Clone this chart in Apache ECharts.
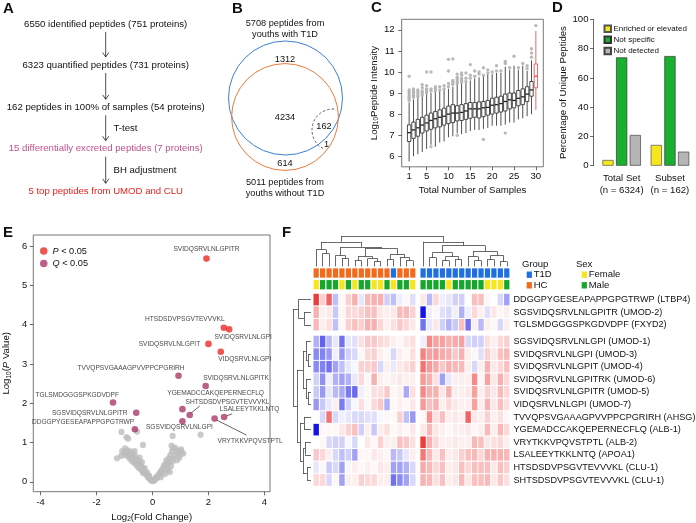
<!DOCTYPE html>
<html>
<head>
<meta charset="utf-8">
<script src="https://cdn.jsdelivr.net/npm/echarts@6.0.0/dist/echarts.min.js"></script>
<style>
html,body{margin:0;padding:0;background:#fff;}
#chart{width:696px;height:523px;}
</style>
</head>
<body>
<div id="chart"></div>
<script>
// ===================== DATA =====================
// Panel A: workflow
const flowSteps = [
  '6550 identified peptides (751 proteins)',
  '6323 quantified peptides (731 proteins)',
  '162 peptides in 100% of samples (54 proteins)',
  '15 differentially excreted peptides (7 proteins)',
  '5 top peptides from UMOD and CLU'
];
const flowTests = ['', '', 'T-test', 'BH adjustment'];

// Panel B: Venn counts
const vennTotalT1D = 5708;
const vennTotalHC = 5011;
const vennCounts = { onlyT1D: 1312, shared: 4234, onlyHC: 614, allSamples: 162, allOnlyHC: 1 };
const vennTitleT1D = '5708 peptides from\nyouths with T1D';
const vennTitleHC = '5011 peptides from\nyouths without T1D';

// Panel C: boxplots [min, Q1, median, Q3, max]
const boxSamples = [1,2,3,4,5,6,7,8,9,10,11,12,13,14,15,16,17,18,19,20,21,22,23,24,25,26,27,28,29,30];
const boxStats = [
  [5.75,6.70,7.12,7.49,8.55],[6.00,6.85,7.25,7.62,8.70],[6.10,6.95,7.35,7.75,8.80],
  [6.20,7.10,7.48,7.85,8.85],[6.35,7.20,7.58,7.95,8.95],[6.55,7.28,7.70,8.05,9.00],
  [6.45,7.35,7.78,8.12,9.05],[6.65,7.40,7.85,8.20,9.10],[6.70,7.48,7.90,8.28,9.15],
  [6.90,7.55,8.00,8.38,9.20],[6.95,7.60,8.05,8.45,9.30],[7.10,7.68,8.05,8.40,9.40],
  [7.05,7.70,8.08,8.45,9.45],[7.10,7.75,8.15,8.50,9.50],[7.20,7.80,8.25,8.55,9.60],
  [7.25,7.85,8.25,8.55,9.70],[7.25,7.82,8.25,8.58,9.75],[7.30,7.88,8.30,8.60,9.80],
  [7.35,7.95,8.32,8.65,9.90],[7.45,8.00,8.42,8.75,9.90],[7.45,8.05,8.45,8.80,9.95],
  [7.45,8.10,8.50,8.85,9.95],[7.50,8.15,8.60,8.95,10.25],[7.60,8.25,8.68,9.00,10.10],
  [7.60,8.30,8.65,9.00,10.30],[7.75,8.40,8.75,9.12,10.10],[7.80,8.45,8.82,9.20,10.30],
  [7.90,8.60,8.95,9.30,10.05],[8.00,8.85,9.15,9.55,10.55],[8.20,9.25,9.80,10.38,11.95]
];
const boxHighlight = 30;
const boxOutliers = [
  [1,8.65],[1,8.75],[1,8.85],[1,8.95],[1,9.05],[1,9.15],[1,9.8],
  [2,8.8],[2,8.9],[2,9.0],[2,9.1],[2,9.2],
  [3,8.85],[3,8.95],[3,9.05],[3,9.15],
  [4,8.9],[4,9.0],[4,9.1],[4,9.25],[4,9.4],
  [5,9.0],[5,9.1],[5,9.2],[5,9.35],[5,10.0],
  [6,9.1],[6,9.2],[6,10.0],[6,6.45],
  [7,9.1],[7,9.2],[7,9.3],
  [8,9.15],[8,9.3],
  [9,9.2],[9,9.35],
  [10,9.3],[10,9.45],[10,10.05],[10,10.6],
  [11,9.4],[11,9.5],[11,9.6],[11,10.62],
  [12,9.45],[12,9.55],[12,9.65],[12,9.75],[12,9.9],[12,7.0],
  [13,9.5],[13,9.6],[13,9.7],[13,9.85],[13,9.95],
  [14,9.55],[14,9.7],[14,9.95],
  [15,9.7],[15,9.85],[15,10.35],
  [16,9.8],[16,10.05],
  [17,9.9],[17,10.0],
  [18,9.85],[18,10.2],[18,6.8],
  [19,9.95],[19,10.1],
  [20,10.0],
  [21,10.05],[21,10.3],
  [22,10.05],
  [23,10.4],[23,10.5],[23,7.1],
  [24,10.2],
  [25,10.75],
  [26,10.2],
  [27,10.4],
  [28,10.15],[28,10.3],
  [29,10.7],[29,10.9],[29,11.1],
  [30,12.2]
];
const boxTicks = [1,5,10,15,20,25,30];

// Panel D: percentage of unique peptides
const dCategories = ['Total Set\n(n = 6324)', 'Subset\n(n = 162)'];
const dEnriched = [3.9, 14.2];
const dNotSpecific = [74.0, 74.9];
const dNotDetected = [21.0, 9.6];

// Panel E: volcano  [log2 fold change, -log10 P, peptide]
const volSigP = [
  [1.93, 5.68, 'SVIDQSRVLNLGPITR'],
  [2.55, 3.92, 'HTSDSDVPSGVTEVVVKL'],
  [2.74, 3.88, 'SVIDQSRVLNLGPI'],
  [2.00, 3.51, 'SVIDQSRVLNLGPIT'],
  [2.44, 3.31, 'VIDQSRVLNLGPI']
];
const volSigQ = [
  [0.93, 2.70, 'TVVQPSVGAAAGPVVPPCPGRIRH'],
  [1.90, 2.44, 'SVIDQSRVLNLGPITK'],
  [-1.41, 2.02, 'TGLSMDGGGSPKGDVDPF'],
  [-0.58, 1.76, 'SGSVIDQSRVLNLGPITR'],
  [-0.63, 1.34, 'DDGGPYGESEAPAPPGPGTRWP'],
  [1.07, 1.85, 'YGEMADCCAKQEPERNECFLQ'],
  [1.33, 1.70, 'SHTSDSDVPSGVTEVVVKL'],
  [1.07, 1.54, 'SGSVIDQSRVLNLGPI'],
  [2.56, 1.65, 'LSALEEYTKKLNTQ'],
  [2.22, 1.61, 'VRYTKKVPQVSTPTL']
];
const volNS = [
  [-0.03,0.03],[-0.07,0.05],[-0.1,0.08],[-0.13,0.1],[-0.16,0.12],[-0.18,0.16],[-0.21,0.18],[-0.24,0.2],
  [-0.26,0.25],[-0.29,0.27],[-0.31,0.3],[-0.33,0.22],[-0.35,0.35],[-0.37,0.28],[-0.4,0.38],[-0.42,0.32],
  [-0.44,0.45],[-0.46,0.4],[-0.48,0.52],[-0.5,0.36],[-0.52,0.47],[-0.55,0.58],[-0.57,0.42],[-0.6,0.55],
  [-0.62,0.66],[-0.64,0.48],[-0.67,0.6],[-0.7,0.72],[-0.72,0.52],[-0.75,0.65],[-0.78,0.77],[-0.8,0.58],
  [-0.83,0.7],[-0.86,0.64],[-0.88,0.8],[-0.92,0.75],[-0.95,0.68],[-0.98,0.85],[-1.02,0.72],[-1.08,0.78],
  [-1.12,0.66],[-1.27,0.6],[-0.93,1.14],[-1.11,1.27],[-0.87,1.1],[-0.55,1.28],[-0.34,0.94],[-0.46,0.62],
  [-0.64,0.78],[-0.38,0.5],[-0.2,0.24],[-0.28,0.35],[-0.12,0.16],
  [0.02,0.02],[0.05,0.06],[0.08,0.04],[0.11,0.09],[0.14,0.12],[0.17,0.1],[0.2,0.16],[0.23,0.2],
  [0.26,0.17],[0.28,0.25],[0.31,0.22],[0.33,0.3],[0.36,0.27],[0.38,0.35],[0.41,0.42],[0.43,0.3],
  [0.46,0.38],[0.48,0.47],[0.5,0.55],[0.53,0.35],[0.56,0.45],[0.58,0.6],[0.6,0.5],[0.62,0.25],
  [0.64,0.68],[0.66,0.4],[0.68,0.92],[0.7,0.78],[0.72,0.52],[0.72,1.17],[0.74,0.6],[0.76,0.85],
  [0.8,0.87],[0.82,0.68],[0.86,0.77],[0.88,0.55],[0.92,0.8],[0.96,0.62],[0.98,0.69],[1.02,0.83],
  [1.04,0.77],[1.1,0.72],[1.72,1.2],[0.45,0.2],[0.3,0.12],[0.55,0.3]
];
const volXTicks = [-4,-2,0,2,4];
const volYTicks = [0,1,2,3,4,5,6];

// Panel F: heatmap
const heatRowLabels = [
  'DDGGPYGESEAPAPPGPGTRWP (LTBP4)','SGSVIDQSRVLNLGPITR (UMOD-2)','TGLSMDGGGSPKGDVDPF (FXYD2)',
  'SGSVIDQSRVLNLGPI (UMOD-1)','SVIDQSRVLNLGPI (UMOD-3)','SVIDQSRVLNLGPIT (UMOD-4)',
  'SVIDQSRVLNLGPITRK (UMOD-6)','SVIDQSRVLNLGPITR (UMOD-5)','VIDQSRVLNLGPI (UMOD-7)',
  'TVVQPSVGAAAGPVVPPCPGRIRH (AHSG)','YGEMADCCAKQEPERNECFLQ (ALB-1)','VRYTKKVPQVSTPTL (ALB-2)',
  'LSALEEYTKKLNTQ (APOA1)','HTSDSDVPSGVTEVVVKL (CLU-1)','SHTSDSDVPSGVTEVVVKL (CLU-1)'
];
const heatValues = [
  [2.5,0.6,2,-0.8,0.1,0.6,1,-0.3,0.9,1,1,-0.6,-0.8,-0.2,0.1,-0.4, 0.3,-0.9,0.5,-0.2,-0.3,-0.6,-0.6,0,0.8,0.8,0.1,0,-0.5,-1.2],
  [1,0.2,0.3,-0.7,0.1,0.5,0.5,0.6,0.8,0.8,0.3,0.2,0.3,0.9,0.9,0.6, -3,-0.2,0.1,-0.4,-0.5,-0.2,-1,-0.2,0.5,0.2,-0.4,0.3,0.1,0.2],
  [0.9,0.2,0.4,-0.8,0.1,0.6,0.8,0.6,1,1,0.5,0.2,0.4,0.7,0.5,0.3, -1.8,-0.3,0.3,-0.6,-1,-0.7,0.8,-1.8,0.2,-0.9,0.2,0.1,-0.5,0.2],
  [-1,-2,-0.9,-0.3,-1.8,-0.3,-0.4,0.4,0.7,0.7,0.5,0.4,0.2,0.1,0.3,0.4, -0.2,1.5,1.2,1.2,1,1.1,1.2,-0.5,-0.6,-0.6,0.4,0.2,0.5,0.6],
  [-1.5,-1.6,-1.3,-0.2,-1.3,-0.6,-0.5,0.1,0.5,0.6,0.2,0.1,-0.5,0.2,0.1,0.4, 1.6,1.2,1.3,1.1,1,0.7,1,0.2,0.1,-0.4,0.6,0.3,0.8,0.9],
  [-1.5,-1.6,-1.8,-1.2,-0.8,-0.3,-0.1,0.6,0.6,0.7,-0.5,0.2,-0.3,0.3,0.4,0.6, 1.8,1.3,1.1,0.7,1,0.9,0.9,0.2,-0.5,0.2,1,0.3,0.5,0.8],
  [-0.6,-1.4,-0.2,-1,-1.2,-1,-0.3,0.5,0.1,1,0.2,0.1,0.2,0.3,0.2,0.2, 1.3,1,0.4,-1.2,-0.3,0.2,0.2,0.2,1.5,0.1,1.2,0.3,1,0.5],
  [-0.7,-1.3,-0.3,-0.9,-1.1,-1.7,-1.9,-0.2,0.1,0.4,0.4,0.7,0.1,0.2,-1.1,0.4, 1.5,1,1,0.3,1,0.2,0.2,0.3,1.2,0.2,0.6,0.3,0.9,0.5],
  [-1.3,-0.7,-0.3,0.2,-1.7,-0.6,-0.1,0.4,0.1,0.5,0.7,-1,0.1,0.2,0.1,0.3, 1.3,0.8,1,0.2,0.5,0.3,0.2,0.2,1.2,0.2,1,0.3,0.8,0.4],
  [0,-0.5,1.8,-0.5,-0.2,-0.3,-0.5,-0.5,-0.4,-0.4,-0.1,0.1,0.1,0.6,-0.8,-1.3, 0.1,1.4,0.4,0.8,0.2,0.3,0.2,2,0.3,0.2,0.6,0.2,0.4,0.1],
  [-3,0.1,0.1,0.1,0.3,0.6,0.8,-0.6,0.2,-0.7,0.2,0.4,0.1,0.2,0.1,0.3, 0.3,0.9,0.3,0.2,0.1,0.2,0.2,0.3,0.1,0.2,0.9,0.2,0.9,0.5],
  [0,0.1,-0.5,-0.6,-0.6,-0.1,-0.5,0,0.3,0.1,0.6,0.2,0.2,0.8,0.7,0.4, 2.5,1,0.5,0.2,0.2,0.3,0.2,0.2,0.9,0.8,0.3,0.4,0.5,0.2],
  [0.7,0.5,0.2,-0.5,-0.8,-0.6,-1.2,0.1,0.1,0.3,0.2,0.1,-0.9,-0.7,-0.3,0.2, 1.7,0.9,0.3,0.8,0.2,0.3,0.6,0.8,0.9,0.5,1,1,1,0.9],
  [-0.3,0.1,-0.7,-0.5,-1.2,-0.1,0.2,0.1,0.2,0.1,0.3,0.2,-1.2,-1.2,-1,-0.5, 1.1,0.9,0.5,0.8,0.2,0.3,0.8,0.5,0.8,0.8,0.8,0.3,0.8,0.6],
  [0.5,0.5,-0.5,0.1,-1.2,0.2,0.2,0.6,0.5,0.5,0.2,0.2,-1.8,-1.5,-1.2,-0.5, 1,0.9,0.4,0.8,0.2,0.3,0.9,0.3,0.8,0.8,0.9,0.3,0.7,0.4]
];
const colGroup = ['HC','HC','HC','HC','HC','HC','HC','HC','HC','HC','HC','HC','T1D','HC','HC','HC',
  'T1D','T1D','T1D','T1D','T1D','T1D','T1D','T1D','T1D','T1D','T1D','T1D','T1D','T1D'];
const colSex = ['F','M','M','M','F','M','F','M','M','F','F','M','F','M','M','F',
  'M','M','M','M','F','M','M','M','M','M','F','F','F','M'];
// dendrograms: [height, left, right] ; leaves are indices in display order
const colTree = [30.3,
  [24.7, [17,0,[13,1,2]], [19.5,[11,3,[8,4,5]], [18,[10,[6,6,7],[8,8,[5,9,10]]],[12,[7,11,12],[9,13,[6,14,15]]]]]],
  [24.7, 16, [21,[14,[9,17,18],[10,[6,19,20],[7,21,22]]],[15,[10,23,[6,24,25]],[11,[7,26,27],[5,28,29]]]]]
];
const rowTree = [18,
  [12.7, 0, [7,1,2]],
  [14, [8,[5,3,[3,4,5]],[5,6,[3,7,8]]], [11,[7,9,10],[8,[6,11,12],[4,13,14]]]]
];

// ===================== LAYOUT / STYLE =====================
const FONT = "'Liberation Sans', Arial, Helvetica, sans-serif";
const C_RED = '#ee2b25', C_PUR = '#ab386b', C_GRAY = '#bdbdbd';
const colPos = c => c + (c >= 16 ? 0.6 : 0);
const rowPos = r => r + (r >= 3 ? 0.33 : 0);
const GROUP_Q = -2.11, SEX_Q = -1.18, ANNOT_H = 0.74;
const COL_LEAF_Q = -2.63, COL_PX = 12.59;   // px per y-unit in panel F
const ROW_LEAF_X = -0.81, ROW_PX = 6.44;    // px per x-unit in panel F
const annotColor = { HC:'#f26a1b', T1D:'#1f6fe0', F:'#f7e51d', M:'#17a62c' };
const VOL_SYM = 6.6;

function heatColor(v){
  const t = Math.min(1, Math.abs(v)/3);
  if (v >= 0) return `rgb(${Math.round(255-20*t)},${Math.round(255-235*t)},${Math.round(255-235*t)})`;
  return `rgb(${Math.round(255-235*t)},${Math.round(255-235*t)},${Math.round(255-25*t)})`;
}
function dendro(node, leafPos, out){
  if (typeof node === 'number') return {p: leafPos(node), h: 0};
  const h = node[0];
  const A = dendro(node[1], leafPos, out), B = dendro(node[2], leafPos, out);
  out.push([[A.p,A.h],[A.p,h]], [[B.p,B.h],[B.p,h]], [[A.p,h],[B.p,h]]);
  return {p:(A.p+B.p)/2, h};
}
const colSegs = []; dendro(colTree, colPos, colSegs);
const rowSegs = []; dendro(rowTree, rowPos, rowSegs);
const dendroLines = colSegs.map(s => ({coords: s.map(([p,h]) => [p, COL_LEAF_Q - h/COL_PX])}))
  .concat(rowSegs.map(s => ({coords: s.map(([p,h]) => [ROW_LEAF_X - h/ROW_PX, p])})));

const heatData = [];
heatValues.forEach((row, r) => row.forEach((v, c) => heatData.push([colPos(c), rowPos(r), v])));
const annotData = [];
colGroup.forEach((g, c) => annotData.push([colPos(c), GROUP_Q, g]));
colSex.forEach((s, c) => annotData.push([colPos(c), SEX_Q, s]));
const rowLabelPos = heatRowLabels.map((_, r) => rowPos(r));

// volcano label offsets (label centre relative to point, px)
const volLabelOffset = {
  'SVIDQSRVLNLGPITR':[0,-9.5], 'HTSDSDVPSGVTEVVVKL':[-39,-8.4], 'SVIDQSRVLNLGPI':[14,8],
  'SVIDQSRVLNLGPIT':[-39,0], 'VIDQSRVLNLGPI':[24,7.6], 'TVVQPSVGAAAGPVVPPCPGRIRH':[-47.5,-7.4],
  'SVIDQSRVLNLGPITK':[30.4,-8], 'TGLSMDGGGSPKGDVDPF':[-35.8,-7.3], 'SGSVIDQSRVLNLGPITR':[-46.5,0],
  'DDGGPYGESEAPAPPGPGTRWP':[-51.8,-7.3], 'YGEMADCCAKQEPERNECFLQ':[33.2,-16.3],
  'SHTSDSDVPSGVTEVVVKL':[37.8,-13.2], 'SGSVIDQSRVLNLGPI':[-3,6.1], 'LSALEEYTKKLNTQ':[25.4,-7.7],
  'VRYTKKVPQVSTPTL':[35.5,22.4]
};
const volLeaders = [
  [[1.36,1.74],[1.69,1.93]],
  [[2.62,1.67],[2.85,1.73]],
  [[2.27,1.58],[3.36,1.19]]
];
function volPoint(d){
  const off = volLabelOffset[d[2]];
  const r = VOL_SYM/2;
  return { value:[d[0], d[1]], name:d[2],
    label:{ show:true, position:[r+off[0], r+off[1]], align:'center', verticalAlign:'middle',
      formatter:d[2], color:'#111', fontSize:6.6, fontFamily:FONT } };
}

// ===================== GRAPHIC (panel A, B, legends, letters) =====================
const G = [];
function txt(x, y, text, opt){
  opt = opt || {};
  G.push({type:'text', x:x, y:y, silent:true, style:{text:text, fill:opt.color||'#111',
    font:(opt.weight||'normal')+' '+(opt.size||9.5)+'px '+FONT,
    textAlign:opt.align||'center', textVerticalAlign:opt.valign||'middle',
    align:opt.align||'center', verticalAlign:opt.valign||'middle', lineHeight:opt.lh||11}});
}
// letters
[['A',3,3],['B',232,3],['C',371,2],['D',552,2],['E',3,227],['F',282,227]].forEach(l => txt(l[1], l[2], l[0], {size:15, weight:'bold', align:'left', valign:'top'}));
// Panel A
const flowY = [24, 65, 107.3, 148.7, 191.3];
const flowColors = ['#111','#111','#111','#c2508a','#e4231f'];
flowSteps.forEach((s,i) => txt(105.7, flowY[i], s, {color:flowColors[i], size:9.6}));
for (let i=0;i<4;i++){
  const y1 = flowY[i]+8, y2 = flowY[i+1]-8;
  G.push({type:'line', silent:true, shape:{x1:105.7,y1:y1,x2:105.7,y2:y2}, style:{stroke:'#222',lineWidth:0.8}});
  G.push({type:'polyline', silent:true, shape:{points:[[102.6,y2-4.5],[105.7,y2],[108.8,y2-4.5]]}, style:{stroke:'#222',lineWidth:0.8,fill:null}});
  if (flowTests[i]) txt(113.5, (y1+y2)/2, flowTests[i], {align:'left', size:9.6});
}
// Panel B Venn (radii from counts)
const vennK = 57/Math.sqrt(vennTotalT1D);
G.push({type:'circle', silent:true, shape:{cx:285.5, cy:98, r:vennK*Math.sqrt(vennTotalT1D)}, style:{fill:null, stroke:'#3c7fd6', lineWidth:1}});
G.push({type:'circle', silent:true, shape:{cx:285, cy:117, r:vennK*Math.sqrt(vennTotalHC)}, style:{fill:null, stroke:'#ea7a3c', lineWidth:1}});
G.push({type:'arc', silent:true, shape:{cx:333, cy:130, r:21, startAngle:-1.52, endAngle:1.96, clockwise:false}, style:{fill:null, stroke:'#333', lineWidth:0.8, lineDash:[2.5,2]}});
txt(285, 29, vennTitleT1D, {size:9.2, lh:11});
txt(285, 187.5, vennTitleHC, {size:9.2, lh:11});
txt(285, 59.3, String(vennCounts.onlyT1D), {size:9.2});
txt(285, 117.3, String(vennCounts.shared), {size:9.2});
txt(324, 126.7, String(vennCounts.allSamples), {size:9.2});
txt(326.5, 144.3, String(vennCounts.allOnlyHC), {size:9.2});
txt(285, 163.3, String(vennCounts.onlyHC), {size:9.2});
// Panel F legend
txt(522, 264, 'Group', {align:'left', size:9.5});
txt(576, 264, 'Sex', {align:'left', size:9.5});
[['T1D',annotColor.T1D,526.7,274.7],['HC',annotColor.HC,526.7,285.3],['Female',annotColor.F,581.7,274.7],['Male',annotColor.M,581.7,285.3]].forEach(l => {
  G.push({type:'rect', silent:true, shape:{x:l[2], y:l[3]-3.2, width:5.2, height:6.4}, style:{fill:l[1]}});
  txt(l[2]+7, l[3], l[0], {align:'left', size:9.5});
});

// ===================== CHART =====================
const chart = echarts.init(document.getElementById('chart'), null, {renderer:'canvas', width:696, height:523});
const axisText = {color:'#111', fontFamily:FONT};
const subRich = {a:{fontSize:9.6, fontFamily:FONT, color:'#111'}, i:{fontSize:9.6, fontFamily:FONT, fontStyle:'italic', color:'#111'}, s:{fontSize:6.5, fontFamily:FONT, color:'#111', verticalAlign:'bottom', padding:[4,0,0,0]}};
const option = {
  animation:false,
  backgroundColor:'#fff',
  textStyle:{fontFamily:FONT},
  graphic:{elements:G},
  legend:[
    { left:598.5, top:19.5, orient:'vertical', itemWidth:6.5, itemHeight:6.5, itemGap:2.6, icon:'rect',
      data:['Enriched or elevated','Not specific','Not detected'],
      textStyle:{fontSize:8.0, color:'#111', fontFamily:FONT, padding:[0,0,0,-2.5]} },
    { left:35, top:241.5, orient:'vertical', itemWidth:7.5, itemHeight:7.5, itemGap:3.5, icon:'circle',
      data:['P < 0.05','Q < 0.05'],
      formatter: n => '{i|' + n.charAt(0) + '}{n|' + n.slice(1) + '}',
      textStyle:{fontSize:9.2, color:'#111', fontFamily:FONT, rich:{i:{fontStyle:'italic', fontSize:9.2, fontFamily:FONT}, n:{fontSize:9.2, fontFamily:FONT}}} }
  ],
  grid:[
    {left:401.7, top:19.3, width:141.6, height:147.5, show:true, borderColor:'#555', borderWidth:0.8, outerBoundsMode:'none'},
    {left:597.5, top:19.3, width:96.6, height:146.4, outerBoundsMode:'none'},
    {left:33.3, top:235, width:236.7, height:256.7, show:true, borderColor:'#555', borderWidth:0.8, outerBoundsMode:'none'},
    {left:284.0, top:234.1, width:226.0, height:252.2, outerBoundsMode:'none'}
  ],
  xAxis:[
    {gridIndex:0, type:'value', min:-0.7, max:31.7, splitLine:{show:false}, axisLine:{show:false, onZero:false},
     axisTick:{show:true, customValues:boxTicks, length:3.5, lineStyle:{color:'#444', width:0.8}},
     axisLabel:{customValues:boxTicks, fontSize:9.6, margin:5, ...axisText},
     name:'Total Number of Samples', nameLocation:'middle', nameGap:19, nameTextStyle:{fontSize:9.6, ...axisText}},
    {gridIndex:1, type:'category', data:dCategories, axisLine:{show:false, onZero:false}, axisTick:{show:false},
     axisLabel:{interval:0, fontSize:9.6, margin:7, lineHeight:12, ...axisText}},
    {gridIndex:2, type:'value', min:-4.26, max:4.2, splitLine:{show:false}, axisLine:{show:false, onZero:false},
     axisTick:{show:true, customValues:volXTicks, length:3.5, lineStyle:{color:'#444', width:0.8}},
     axisLabel:{customValues:volXTicks, fontSize:9.4, margin:6, ...axisText},
     name:'{a|Log}{s|2}{a|(Fold Change)}', nameLocation:'middle', nameGap:20,
     nameTextStyle:{...axisText, rich:subRich}},
    {gridIndex:3, type:'value', min:-5, max:30.1, show:false, axisLine:{onZero:false}}
  ],
  yAxis:[
    {gridIndex:0, type:'value', min:5.5, max:12.5, splitLine:{show:false}, axisLine:{show:false, onZero:false},
     axisTick:{show:true, customValues:[6,7,8,9,10,11,12], length:3.5, lineStyle:{color:'#444', width:0.8}},
     axisLabel:{customValues:[6,7,8,9,10,11,12], fontSize:9.6, margin:7, ...axisText},
     name:'{a|Log}{s|10}{a|Peptide Intensity}', nameLocation:'middle', nameGap:20,
     nameTextStyle:{...axisText, rich:subRich}},
    {gridIndex:1, type:'value', min:0, max:100, interval:20, splitLine:{show:false},
     axisLine:{show:true, onZero:false, lineStyle:{color:'#444', width:0.8}}, offset:4,
     axisTick:{show:true, length:3.5, lineStyle:{color:'#444', width:0.8}},
     axisLabel:{fontSize:9.6, margin:5, ...axisText},
     name:'Percentage of Unique Peptides', nameLocation:'middle', nameGap:24, nameTextStyle:{fontSize:9.6, ...axisText}},
    {gridIndex:2, type:'value', min:-0.25, max:6.28, splitLine:{show:false}, axisLine:{show:false, onZero:false},
     axisTick:{show:true, customValues:volYTicks, length:3.5, lineStyle:{color:'#444', width:0.8}},
     axisLabel:{customValues:volYTicks, fontSize:9.4, margin:6, ...axisText},
     name:'{a|Log}{s|10}{a|(}{i|P}{a| Value)}', nameLocation:'middle', nameGap:21,
     nameTextStyle:{...axisText, rich:subRich}},
    {gridIndex:3, type:'value', min:-5.2, max:14.83, inverse:true, show:false, axisLine:{onZero:false}},
    {gridIndex:3, type:'value', min:-5.2, max:14.83, inverse:true, position:'right',
     axisLine:{show:false, onZero:false}, axisTick:{show:false}, splitLine:{show:false},
     axisLabel:{customValues:rowLabelPos, margin:3.5, fontSize:9.1, ...axisText,
       formatter: v => { let best=0, bd=1e9; rowLabelPos.forEach((p,i)=>{const d=Math.abs(p-v); if(d<bd){bd=d;best=i;}}); return heatRowLabels[best]; }}}
  ],
  series:[
    // Panel C boxes
    {type:'custom', xAxisIndex:0, yAxisIndex:0, silent:true,
     data: boxSamples.map((s,i) => [s].concat(boxStats[i])),
     renderItem:(params, api) => {
       const x = api.value(0);
       const lo = api.coord([x, api.value(1)]), q1 = api.coord([x, api.value(2)]), md = api.coord([x, api.value(3)]),
             q3 = api.coord([x, api.value(4)]), hi = api.coord([x, api.value(5)]);
       const hw = api.size([0.39, 0])[0];
       const col = x === boxHighlight ? '#e2433f' : '#222';
       return {type:'group', children:[
         {type:'line', shape:{x1:lo[0],y1:lo[1],x2:q1[0],y2:q1[1]}, style:{stroke:col, lineWidth:0.8}},
         {type:'line', shape:{x1:q3[0],y1:q3[1],x2:hi[0],y2:hi[1]}, style:{stroke:col, lineWidth:0.8}},
         {type:'rect', shape:{x:q3[0]-hw, y:q3[1], width:2*hw, height:q1[1]-q3[1]}, style:{fill:'#fff', stroke:col, lineWidth:0.8}},
         {type:'line', shape:{x1:md[0]-hw,y1:md[1],x2:md[0]+hw,y2:md[1]}, style:{stroke:col, lineWidth:1.3}}
       ]};
     }},
    {type:'scatter', xAxisIndex:0, yAxisIndex:0, silent:true, symbolSize:3.4, data:boxOutliers,
     itemStyle:{color:'#a9a9a9'}},
    // Panel D bars
    {name:'Enriched or elevated', type:'bar', xAxisIndex:1, yAxisIndex:1, data:dEnriched, barWidth:11.2, barGap:'22%',
     itemStyle:{color:'#f6e71b', borderColor:'#555', borderWidth:0.7}},
    {name:'Not specific', type:'bar', xAxisIndex:1, yAxisIndex:1, data:dNotSpecific, barWidth:11.2, barGap:'22%',
     itemStyle:{color:'#19b02f', borderColor:'#333', borderWidth:0.7}},
    {name:'Not detected', type:'bar', xAxisIndex:1, yAxisIndex:1, data:dNotDetected, barWidth:11.2, barGap:'22%',
     itemStyle:{color:'#b5b5b5', borderColor:'#444', borderWidth:0.7}},
    // Panel E
    {name:'NS', type:'scatter', xAxisIndex:2, yAxisIndex:2, silent:true, symbolSize:6.2, data:volNS,
     itemStyle:{color:C_GRAY}},
    {type:'lines', coordinateSystem:'cartesian2d', xAxisIndex:2, yAxisIndex:2, silent:true,
     data: volLeaders.map(c => ({coords:c})), lineStyle:{color:'#222', width:0.7, opacity:1}},
    {name:'Q < 0.05', type:'scatter', xAxisIndex:2, yAxisIndex:2, silent:true, symbolSize:VOL_SYM,
     data: volSigQ.map(volPoint), itemStyle:{color:C_PUR}, labelLayout:{hideOverlap:false}},
    {name:'P < 0.05', type:'scatter', xAxisIndex:2, yAxisIndex:2, silent:true, symbolSize:VOL_SYM,
     data: volSigP.map(volPoint), itemStyle:{color:C_RED}, labelLayout:{hideOverlap:false}},
    // Panel F heatmap cells
    {type:'custom', xAxisIndex:3, yAxisIndex:3, silent:true, data:heatData,
     renderItem:(params, api) => {
       const x = api.value(0), y = api.value(1), v = api.value(2);
       const p0 = api.coord([x-0.5, y-0.5]), p1 = api.coord([x+0.5, y+0.5]);
       return {type:'rect', shape:{x:Math.min(p0[0],p1[0])+0.5, y:Math.min(p0[1],p1[1])+0.5,
         width:Math.abs(p1[0]-p0[0])-1, height:Math.abs(p1[1]-p0[1])-1}, style:{fill:heatColor(v)}};
     }},
    // Panel F annotation bars
    {type:'custom', xAxisIndex:3, yAxisIndex:3, silent:true, data:annotData,
     dimensions:['x','y',{name:'k', type:'ordinal'}],
     renderItem:(params, api) => {
       const d = annotData[params.dataIndex];
       const p0 = api.coord([d[0]-0.5, d[1]-ANNOT_H/2]), p1 = api.coord([d[0]+0.5, d[1]+ANNOT_H/2]);
       return {type:'rect', shape:{x:Math.min(p0[0],p1[0])+0.6, y:Math.min(p0[1],p1[1]),
         width:Math.abs(p1[0]-p0[0])-1.2, height:Math.abs(p1[1]-p0[1])}, style:{fill:annotColor[d[2]]}};
     }},
    // Panel F dendrograms
    {type:'lines', coordinateSystem:'cartesian2d', xAxisIndex:3, yAxisIndex:3, silent:true,
     data:dendroLines, lineStyle:{color:'#444', width:0.8, opacity:1}}
  ]
};
chart.setOption(option);
</script>
</body>
</html>
